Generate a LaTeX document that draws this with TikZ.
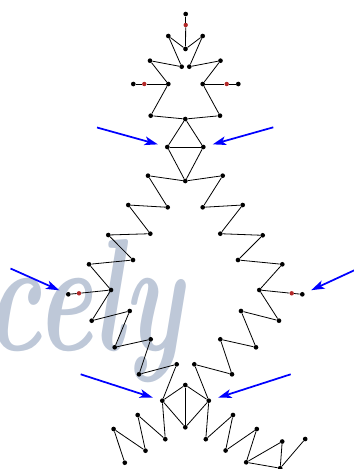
\documentclass[tikz,border=0pt]{standalone}
\usetikzlibrary{arrows.meta}
\definecolor{marca}{RGB}{190,200,216}
\definecolor{vermelho}{RGB}{178,40,40}
\begin{document}
\begin{tikzpicture}[x=0.75pt, y=-0.75pt,
    ponto/.style={circle, fill=black, inner sep=0pt, minimum size=3.5pt},
    pontov/.style={circle, fill=vermelho, inner sep=0pt, minimum size=3.3pt},
    aresta/.style={line width=0.6pt, black},
    seta/.style={-{Stealth[length=10pt, width=6.5pt, inset=2.5pt]}, line width=1.3pt, blue, shorten >=5.4pt}]
    \useasboundingbox (0,0) rectangle (354,469);
    % Marca d'água ao fundo
    \node[font=\fontsize{120}{120}\selectfont\bfseries\itshape, text=marca,
          anchor=base east, inner sep=0pt, xscale=0.66] (marcadagua) at (183,350) {lcely};
    % Pontos pretos
    \foreach \nome/\x/\y in {t0/185.7/14, t2/168.3/36, t3/202.7/36, t4/185.5/49,
        t5/150/60.7, t6/181.7/66.7, t7/189.3/66.7, t8/220.5/60.7,
        t9/133.3/84, t11/168.3/84, t12/202.7/84, t14/238.3/84,
        u1/150.7/115.7, u2/185.3/119, u3/220/115.7, u4/167.3/147, u5/203.3/147,
        u6/148/175.7, u7/185.3/181, u8/222.7/175.7,
        l1/167.7/207.3, l2/128.3/205, l3/150.3/233.7, l4/108.3/235, l5/133/260,
        l6/89/264.3, l7/111/290, l9/68.3/294.3, l10/91.7/320.7, l11/129.7/311,
        l12/114.7/347.3, l13/150.7/339.3, l14/139/374.3, l15/176.7/364.3,
        r1/202.7/207.3, r2/242.7/205, r3/220.3/233.7, r4/262.7/235.3, r5/238/260,
        r6/282.3/264.3, r7/259.3/290, r9/302.3/294.3, r10/279/320.7, r11/241/311,
        r12/256/347.3, r13/220.3/339.3, r14/232/374.3, r15/194.3/364.3,
        b1/162.3/400.7, b2/185.3/385, b3/208.8/400.7, b4/185.3/427.3,
        c1/165.3/439.2, c2/137.7/415, c3/145.5/450.7, c4/113.6/429, c5/124.8/462.7,
        d1/205.8/439.2, d2/233/415, d3/225.6/450.5, d4/256.8/429, d5/246.2/462.3,
        d6/282.2/441.5, d7/280.2/468.2, d8/305.2/439}
      \node[ponto] (\nome) at (\x,\y) {};
    % Pontos vermelhos
    \foreach \nome/\x/\y in {t1/185.7/25, t10/144.3/84, t13/226.7/84, l8/79/293.3, r8/291.7/293.3}
      \node[pontov] (\nome) at (\x,\y) {};
    % Arestas do topo
    \foreach \a/\b in {t0/t1, t1/t4, t2/t4, t3/t4, t2/t6, t3/t7, t5/t6, t8/t7,
        t5/t11, t8/t12, t9/t10, t10/t11, t14/t13, t13/t12, t11/u1, t12/u3,
        u1/u2, u3/u2, u2/u4, u2/u5, u4/u5, u4/u7, u5/u7, u6/u7, u8/u7}
      \draw[aresta] (\a) -- (\b);
    % Zigue-zagues laterais
    \foreach \s/\u in {l/u6, r/u8} {
      \draw[aresta] (\u) -- (\s1);
      \foreach \a/\b in {1/2, 2/3, 3/4, 4/5, 5/6, 6/7, 7/8, 8/9, 7/10, 10/11, 11/12, 12/13, 13/14, 14/15}
        \draw[aresta] (\s\a) -- (\s\b);
    }
    \draw[aresta] (l15) -- (b1);
    \draw[aresta] (r15) -- (b3);
    % Parte de baixo
    \foreach \a/\b in {b1/b2, b2/b3, b1/b4, b3/b4, b2/b4,
        b1/c1, c1/c2, c2/c3, c3/c4, c4/c5,
        b3/d1, d1/d2, d2/d3, d3/d4, d4/d5, d5/d6, d6/d7, d5/d7, d7/d8}
      \draw[aresta] (\a) -- (\b);
    % Setas azuis
    \coordinate (a1) at (97,127.5);
    \coordinate (a2) at (273.3,127.3);
    \coordinate (a3) at (10.5,268.5);
    \coordinate (a4) at (356,269.5);
    \coordinate (a5) at (80.7,374.3);
    \coordinate (a6) at (290.7,374.3);
    \foreach \a/\b in {a1/u4, a2/u5, a3/l9, a4/r9, a5/b1, a6/b3}
      \draw[seta] (\a) -- (\b);
\end{tikzpicture}
\end{document}
